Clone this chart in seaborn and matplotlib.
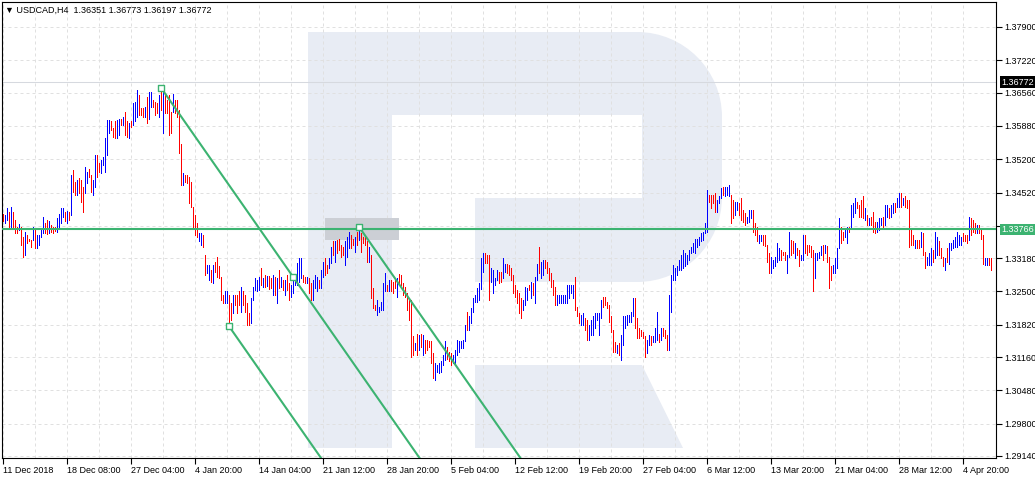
import numpy as np
import pandas as pd
import matplotlib
matplotlib.use("Agg")
import matplotlib.pyplot as plt
import seaborn as sns
from matplotlib.path import Path
from matplotlib.patches import PathPatch, Polygon, Rectangle
from matplotlib.transforms import Affine2D, blended_transform_factory

# ---------------- data ----------------
symbol_info = "\u25bc USDCAD,H4  1.36351 1.36773 1.36197 1.36772"

# H4 bars, 11 Dec 2018 -> 5 Apr 2019 (high / low of every bar)
highs = [
    1.3409, 1.3406, 1.3420, 1.3413, 1.3423, 1.3413, 1.3396, 1.3382, 1.3388, 1.3382,
    1.3362, 1.3372, 1.3365, 1.3358, 1.3356, 1.3382, 1.3379, 1.3365, 1.3365, 1.3375,
    1.3401, 1.3390, 1.3396, 1.3393, 1.3386, 1.3382, 1.3382, 1.3399, 1.3409, 1.3420,
    1.3420, 1.3413, 1.3415, 1.3413, 1.3488, 1.3498, 1.3474, 1.3477, 1.3481, 1.3477,
    1.3464, 1.3505, 1.3494, 1.3501, 1.3488, 1.3477, 1.3529, 1.3529, 1.3512, 1.3518,
    1.3525, 1.3563, 1.3600, 1.3600, 1.3597, 1.3583, 1.3597, 1.3600, 1.3603, 1.3603,
    1.3607, 1.3617, 1.3597, 1.3593, 1.3597, 1.3634, 1.3637, 1.3661, 1.3651, 1.3624,
    1.3624, 1.3627, 1.3648, 1.3658, 1.3658, 1.3641, 1.3637, 1.3634, 1.3651, 1.3667,
    1.3658, 1.3651, 1.3641, 1.3651, 1.3617, 1.3654, 1.3641, 1.3641, 1.3620, 1.3552,
    1.3491, 1.3488, 1.3488, 1.3484, 1.3474, 1.3423, 1.3406, 1.3389, 1.3369, 1.3369,
    1.3365, 1.3324, 1.3304, 1.3304, 1.3294, 1.3304, 1.3311, 1.3321, 1.3301, 1.3280,
    1.3243, 1.3250, 1.3250, 1.3243, 1.3226, 1.3243, 1.3243, 1.3243, 1.3250, 1.3260,
    1.3250, 1.3243, 1.3226, 1.3205, 1.3236, 1.3260, 1.3277, 1.3273, 1.3280, 1.3297,
    1.3277, 1.3283, 1.3281, 1.3281, 1.3277, 1.3283, 1.3280, 1.3277, 1.3294, 1.3280,
    1.3273, 1.3273, 1.3283, 1.3267, 1.3263, 1.3280, 1.3273, 1.3308, 1.3318, 1.3318,
    1.3283, 1.3280, 1.3280, 1.3277, 1.3267, 1.3273, 1.3283, 1.3280, 1.3273, 1.3294,
    1.3311, 1.3318, 1.3304, 1.3318, 1.3341, 1.3352, 1.3352, 1.3355, 1.3358, 1.3345,
    1.3341, 1.3352, 1.3362, 1.3372, 1.3365, 1.3358, 1.3362, 1.3372, 1.3382, 1.3369,
    1.3362, 1.3365, 1.3352, 1.3341, 1.3324, 1.3257, 1.3222, 1.3233, 1.3219, 1.3229,
    1.3267, 1.3287, 1.3263, 1.3273, 1.3273, 1.3270, 1.3277, 1.3277, 1.3286, 1.3283,
    1.3267, 1.3260, 1.3246, 1.3233, 1.3233, 1.3158, 1.3144, 1.3164, 1.3161, 1.3164,
    1.3161, 1.3151, 1.3151, 1.3148, 1.3148, 1.3124, 1.3103, 1.3100, 1.3103, 1.3107,
    1.3120, 1.3148, 1.3137, 1.3127, 1.3124, 1.3120, 1.3130, 1.3151, 1.3148, 1.3148,
    1.3151, 1.3182, 1.3209, 1.3199, 1.3216, 1.3236, 1.3243, 1.3257, 1.3267, 1.3318,
    1.3328, 1.3328, 1.3324, 1.3324, 1.3297, 1.3294, 1.3277, 1.3294, 1.3290, 1.3290,
    1.3318, 1.3307, 1.3307, 1.3304, 1.3297, 1.3284, 1.3263, 1.3253, 1.3246, 1.3236,
    1.3233, 1.3260, 1.3256, 1.3263, 1.3270, 1.3267, 1.3280, 1.3307, 1.3341, 1.3311,
    1.3314, 1.3314, 1.3311, 1.3297, 1.3287, 1.3273, 1.3260, 1.3243, 1.3243, 1.3243,
    1.3243, 1.3243, 1.3263, 1.3263, 1.3263, 1.3263, 1.3280, 1.3219, 1.3205, 1.3202,
    1.3205, 1.3195, 1.3192, 1.3182, 1.3192, 1.3199, 1.3205, 1.3205, 1.3205, 1.3233,
    1.3239, 1.3239, 1.3229, 1.3222, 1.3199, 1.3171, 1.3147, 1.3141, 1.3144, 1.3161,
    1.3199, 1.3199, 1.3202, 1.3202, 1.3209, 1.3236, 1.3236, 1.3195, 1.3175, 1.3171,
    1.3168, 1.3158, 1.3151, 1.3161, 1.3158, 1.3158, 1.3175, 1.3209, 1.3164, 1.3175,
    1.3175, 1.3171, 1.3161, 1.3243, 1.3284, 1.3304, 1.3297, 1.3301, 1.3314, 1.3324,
    1.3335, 1.3328, 1.3324, 1.3335, 1.3341, 1.3348, 1.3358, 1.3358, 1.3362, 1.3369,
    1.3372, 1.3389, 1.3457, 1.3447, 1.3447, 1.3447, 1.3450, 1.3437, 1.3444, 1.3461,
    1.3464, 1.3464, 1.3464, 1.3467, 1.3447, 1.3437, 1.3433, 1.3433, 1.3430, 1.3440,
    1.3416, 1.3410, 1.3403, 1.3416, 1.3416, 1.3416, 1.3389, 1.3382, 1.3365, 1.3365,
    1.3365, 1.3365, 1.3345, 1.3328, 1.3321, 1.3314, 1.3321, 1.3348, 1.3338, 1.3335,
    1.3331, 1.3331, 1.3324, 1.3372, 1.3355, 1.3352, 1.3348, 1.3338, 1.3335, 1.3324,
    1.3365, 1.3365, 1.3345, 1.3345, 1.3342, 1.3335, 1.3328, 1.3328, 1.3331, 1.3342,
    1.3345, 1.3345, 1.3342, 1.3321, 1.3301, 1.3304, 1.3318, 1.3338, 1.3399, 1.3382,
    1.3372, 1.3375, 1.3382, 1.3382, 1.3427, 1.3430, 1.3440, 1.3433, 1.3427, 1.3437,
    1.3444, 1.3420, 1.3406, 1.3399, 1.3403, 1.3413, 1.3392, 1.3392, 1.3399, 1.3399,
    1.3403, 1.3427, 1.3427, 1.3420, 1.3427, 1.3430, 1.3430, 1.3440, 1.3450, 1.3450,
    1.3440, 1.3444, 1.3437, 1.3437, 1.3375, 1.3365, 1.3355, 1.3355, 1.3355, 1.3372,
    1.3369, 1.3331, 1.3321, 1.3328, 1.3338, 1.3335, 1.3372, 1.3362, 1.3352, 1.3338,
    1.3321, 1.3318, 1.3338, 1.3348, 1.3348, 1.3355, 1.3362, 1.3372, 1.3365, 1.3362,
    1.3369, 1.3365, 1.3365, 1.3403, 1.3399, 1.3396, 1.3389, 1.3386, 1.3386, 1.3379,
    1.3365, 1.3318, 1.3318, 1.3318, 1.3318,
]
lows = [
    1.3393, 1.3389, 1.3396, 1.3379, 1.3382, 1.3379, 1.3369, 1.3369, 1.3375, 1.3345,
    1.3321, 1.3324, 1.3348, 1.3352, 1.3341, 1.3355, 1.3338, 1.3338, 1.3345, 1.3362,
    1.3369, 1.3369, 1.3367, 1.3369, 1.3372, 1.3369, 1.3374, 1.3372, 1.3382, 1.3389,
    1.3403, 1.3393, 1.3389, 1.3396, 1.3406, 1.3454, 1.3447, 1.3447, 1.3450, 1.3433,
    1.3413, 1.3450, 1.3471, 1.3484, 1.3454, 1.3447, 1.3464, 1.3484, 1.3494, 1.3491,
    1.3508, 1.3494, 1.3529, 1.3573, 1.3580, 1.3566, 1.3563, 1.3563, 1.3569, 1.3590,
    1.3590, 1.3569, 1.3566, 1.3563, 1.3586, 1.3590, 1.3597, 1.3607, 1.3610, 1.3610,
    1.3607, 1.3607, 1.3593, 1.3603, 1.3627, 1.3627, 1.3610, 1.3614, 1.3607, 1.3620,
    1.3573, 1.3614, 1.3614, 1.3569, 1.3573, 1.3617, 1.3614, 1.3607, 1.3532, 1.3467,
    1.3467, 1.3474, 1.3471, 1.3430, 1.3423, 1.3379, 1.3365, 1.3362, 1.3352, 1.3345,
    1.3341, 1.3284, 1.3287, 1.3273, 1.3270, 1.3267, 1.3290, 1.3280, 1.3277, 1.3233,
    1.3226, 1.3226, 1.3226, 1.3181, 1.3192, 1.3205, 1.3222, 1.3205, 1.3222, 1.3209,
    1.3222, 1.3209, 1.3181, 1.3181, 1.3185, 1.3233, 1.3253, 1.3250, 1.3253, 1.3263,
    1.3260, 1.3260, 1.3261, 1.3254, 1.3257, 1.3243, 1.3243, 1.3226, 1.3257, 1.3260,
    1.3253, 1.3243, 1.3253, 1.3233, 1.3239, 1.3246, 1.3263, 1.3263, 1.3270, 1.3277,
    1.3270, 1.3267, 1.3267, 1.3246, 1.3233, 1.3233, 1.3257, 1.3250, 1.3257, 1.3257,
    1.3280, 1.3283, 1.3287, 1.3297, 1.3308, 1.3324, 1.3311, 1.3328, 1.3335, 1.3321,
    1.3324, 1.3304, 1.3321, 1.3338, 1.3338, 1.3345, 1.3331, 1.3345, 1.3355, 1.3331,
    1.3348, 1.3345, 1.3311, 1.3311, 1.3236, 1.3216, 1.3212, 1.3202, 1.3209, 1.3212,
    1.3212, 1.3250, 1.3250, 1.3250, 1.3250, 1.3246, 1.3257, 1.3239, 1.3263, 1.3263,
    1.3243, 1.3239, 1.3212, 1.3192, 1.3117, 1.3120, 1.3130, 1.3120, 1.3130, 1.3137,
    1.3120, 1.3124, 1.3130, 1.3137, 1.3103, 1.3073, 1.3069, 1.3086, 1.3083, 1.3086,
    1.3100, 1.3110, 1.3113, 1.3107, 1.3100, 1.3103, 1.3100, 1.3120, 1.3127, 1.3134,
    1.3134, 1.3148, 1.3171, 1.3171, 1.3185, 1.3209, 1.3229, 1.3229, 1.3233, 1.3255,
    1.3290, 1.3308, 1.3308, 1.3233, 1.3270, 1.3246, 1.3263, 1.3273, 1.3267, 1.3270,
    1.3277, 1.3290, 1.3287, 1.3284, 1.3273, 1.3246, 1.3239, 1.3226, 1.3205, 1.3195,
    1.3212, 1.3222, 1.3233, 1.3253, 1.3236, 1.3243, 1.3226, 1.3273, 1.3287, 1.3277,
    1.3284, 1.3297, 1.3287, 1.3273, 1.3260, 1.3243, 1.3222, 1.3222, 1.3226, 1.3226,
    1.3226, 1.3226, 1.3226, 1.3236, 1.3246, 1.3236, 1.3212, 1.3199, 1.3185, 1.3182,
    1.3182, 1.3171, 1.3151, 1.3151, 1.3161, 1.3161, 1.3175, 1.3192, 1.3161, 1.3195,
    1.3219, 1.3222, 1.3216, 1.3188, 1.3168, 1.3127, 1.3127, 1.3124, 1.3120, 1.3110,
    1.3141, 1.3175, 1.3182, 1.3188, 1.3188, 1.3199, 1.3175, 1.3154, 1.3154, 1.3158,
    1.3154, 1.3117, 1.3124, 1.3141, 1.3141, 1.3147, 1.3147, 1.3151, 1.3147, 1.3151,
    1.3158, 1.3154, 1.3131, 1.3131, 1.3209, 1.3273, 1.3273, 1.3284, 1.3294, 1.3294,
    1.3297, 1.3301, 1.3307, 1.3314, 1.3328, 1.3331, 1.3328, 1.3341, 1.3345, 1.3352,
    1.3355, 1.3369, 1.3372, 1.3433, 1.3420, 1.3430, 1.3413, 1.3413, 1.3430, 1.3440,
    1.3447, 1.3444, 1.3447, 1.3444, 1.3389, 1.3399, 1.3406, 1.3416, 1.3406, 1.3396,
    1.3392, 1.3386, 1.3389, 1.3392, 1.3399, 1.3372, 1.3365, 1.3352, 1.3348, 1.3352,
    1.3345, 1.3342, 1.3311, 1.3287, 1.3287, 1.3297, 1.3301, 1.3311, 1.3314, 1.3314,
    1.3324, 1.3314, 1.3287, 1.3321, 1.3324, 1.3328, 1.3318, 1.3324, 1.3301, 1.3314,
    1.3314, 1.3328, 1.3324, 1.3331, 1.3321, 1.3250, 1.3277, 1.3314, 1.3318, 1.3324,
    1.3314, 1.3328, 1.3311, 1.3256, 1.3273, 1.3287, 1.3287, 1.3297, 1.3338, 1.3348,
    1.3355, 1.3362, 1.3348, 1.3372, 1.3382, 1.3403, 1.3410, 1.3420, 1.3403, 1.3403,
    1.3399, 1.3396, 1.3386, 1.3386, 1.3386, 1.3372, 1.3369, 1.3372, 1.3375, 1.3386,
    1.3379, 1.3386, 1.3403, 1.3399, 1.3403, 1.3410, 1.3413, 1.3423, 1.3423, 1.3423,
    1.3427, 1.3423, 1.3420, 1.3341, 1.3345, 1.3345, 1.3338, 1.3338, 1.3338, 1.3341,
    1.3324, 1.3297, 1.3304, 1.3304, 1.3304, 1.3311, 1.3318, 1.3324, 1.3324, 1.3318,
    1.3301, 1.3294, 1.3311, 1.3307, 1.3335, 1.3338, 1.3341, 1.3341, 1.3345, 1.3345,
    1.3352, 1.3352, 1.3348, 1.3355, 1.3365, 1.3372, 1.3369, 1.3369, 1.3369, 1.3358,
    1.3307, 1.3304, 1.3304, 1.3304, 1.3294,
]
# u = bar closed up (blue), d = bar closed down (red)
bar_dir = "".join([
    "duududddud", "duddduduuu", "udduddduuu", "udududdudd", "duudduuddu",
    "uuuuddduud", "udduduuudd", "duduudddud", "uddddudddd", "uddddddduu",
    "dduududddd", "duuddudddu", "dddduuuuu",
    "dududdudud", "ududduuuuu", "uddudduuud", "uudduududd", "dduuuddudu",
    "dddduddduu", "uuududddud", "dddddddudu", "duddddduuu", "uuuddduuuu",
    "uuuduuuuuu", "uuddduuuudd",
    "uudddddddd", "uuududuudu", "udddddduuu", "uuuuuudddu", "udduuuuuuu",
    "dddddddudu", "uuuuuudddd", "dduuduuudu", "ddduuuuuuu", "uuuuuuuuuu", "uuu",
    "dddduuuduu", "udduuddddu", "uuddduuddd", "duuuuudddu", "uddudduudd",
    "ddduuuudud",
    "dduuuudduu", "duuuddddud", "uddduuuduu", "duuduududd", "dddudduddu",
    "uuduudddud", "uuuuuuuddd", "uddduddduu", "dd",
])

date_ticks = [0, 32, 64, 96, 128, 160, 192, 224, 256, 288, 320, 352, 384, 416, 448, 480]
date_labels = ["11 Dec 2018", "18 Dec 08:00", "27 Dec 04:00", "4 Jan 20:00",
               "14 Jan 04:00", "21 Jan 12:00", "28 Jan 20:00", "5 Feb 04:00",
               "12 Feb 12:00", "19 Feb 20:00", "27 Feb 04:00", "6 Mar 12:00",
               "13 Mar 20:00", "21 Mar 04:00", "28 Mar 12:00", "4 Apr 20:00"]
price_ticks = [1.37900, 1.37220, 1.36560, 1.35880, 1.35200, 1.34520, 1.33840,
               1.33180, 1.32500, 1.31820, 1.31160, 1.30480, 1.29800, 1.29140]

level_price = 1.33766
last_price = 1.36772
channel_bars = [79, 145]          # two anchors of the first channel line
channel_prices = [1.3666, 1.3280]
parallel_bars = [113, 178]        # anchors of the parallel lines
parallel_prices = [1.3179, 1.3382]
zone_bars = [161, 198]
zone_prices = [1.3355, 1.3400]

GREEN = "mediumseagreen"
FS = 6.5

n = min(len(highs), len(lows), len(bar_dir))
df = pd.DataFrame({"bar": np.arange(n), "high": highs[:n], "low": lows[:n],
                   "dir": list(bar_dir[:n])})
df["color"] = np.where(df["dir"] == "u", "#0000ff", "#ff0000")

sns.set_theme(style="white")
plt.rcParams["font.family"] = ["Liberation Sans", "DejaVu Sans"]

W, H = 1035, 480
fig = plt.figure(figsize=(W / 100, H / 100), dpi=100)
ax = fig.add_axes([2 / W, 22 / H, 994 / W, 456 / H])
ax.set_facecolor("white")

# watermark logo (pixel coords of the screenshot)
px = Affine2D().scale(1 / W, -1 / H).translate(0, 1) + fig.transFigure
k, r = 0.5523, 85
verts = [(308, 32), (722 - r, 32), (722 - r + k * r, 32), (722, 32 + r - k * r), (722, 32 + r),
         (722, 282 - r), (722, 282 - r + k * r), (722 - r + k * r, 282), (722 - r, 282),
         (475, 282), (475, 198), (642, 198), (642, 115), (392, 115), (392, 448), (308, 448),
         (308, 32)]
codes = [Path.MOVETO, Path.LINETO, Path.CURVE4, Path.CURVE4, Path.CURVE4,
         Path.LINETO, Path.CURVE4, Path.CURVE4, Path.CURVE4,
         Path.LINETO, Path.LINETO, Path.LINETO, Path.LINETO, Path.LINETO, Path.LINETO,
         Path.LINETO, Path.CLOSEPOLY]
logo_c = "#e8ecf4"
ax.add_patch(PathPatch(Path(verts, codes), transform=px, fc=logo_c, ec="none", zorder=0.1))
ax.add_patch(Polygon([(475, 365), (642, 365), (683, 448), (475, 448)], closed=True,
                     transform=px, fc=logo_c, ec="none", zorder=0.1))

# grey zone rectangle
ax.add_patch(Rectangle((zone_bars[0], zone_prices[0]), zone_bars[1] - zone_bars[0],
                       zone_prices[1] - zone_prices[0], fc="#cccfd5", ec="none", zorder=1))

ax.axhline(last_price, color="#d6d9df", lw=0.75, zorder=1)

# OHLC bars (high-low sticks)
ax.vlines(df["bar"], df["low"], df["high"], colors=df["color"], linewidth=0.72,
          antialiased=False, zorder=2)

# horizontal level and channel lines
ax.axhline(level_price, color=GREEN, lw=1.5, zorder=3)
slope = (channel_prices[1] - channel_prices[0]) / (channel_bars[1] - channel_bars[0])
starts = [(channel_bars[0], channel_prices[0])] + list(zip(parallel_bars, parallel_prices))
for b, p in starts:
    ax.plot([b, b + 200], [p, p + slope * 200], color=GREEN, lw=1.5, zorder=3)

sns.scatterplot(x=channel_bars + parallel_bars, y=channel_prices + parallel_prices,
                marker="s", s=16, color="white", edgecolor=GREEN, linewidth=1.0,
                zorder=5, ax=ax)

ax.set_xlim(-0.5, 496.5)
ax.set_ylim(1.29099, 1.38410)

# axes, ticks, grid
ax.yaxis.tick_right()
ax.set_yticks(price_ticks)
# the tick under the level label is hidden by the label box
ax.set_yticklabels(["" if abs(p - level_price) < 0.002 else f"{p:.5f}" for p in price_ticks])
ax.set_xticks(date_ticks)
ax.set_xticklabels(date_labels, ha="left")
ax.set_xticks(list(range(16, 496, 32)), minor=True)
ax.tick_params(axis="x", which="major", bottom=True, direction="out", length=4, width=0.8,
               color="black", labelsize=FS, labelcolor="black", pad=1.5)
ax.tick_params(axis="x", which="minor", bottom=True, length=0)
ax.tick_params(axis="y", which="major", right=True, direction="out", length=4, width=0.8,
               color="black", labelsize=FS, labelcolor="black", pad=2)
ax.set_axisbelow(True)
grid_kw = dict(color="#e0e0e0", linestyle=(0, (3, 3)), linewidth=0.72)
ax.grid(True, axis="x", which="both", **grid_kw)
ax.grid(True, axis="y", which="major", **grid_kw)
for s in ax.spines.values():
    s.set_visible(True)
    s.set_color("black")
    s.set_linewidth(0.8)
ax.set_xlabel("")
ax.set_ylabel("")

# price labels on the right scale
trans = blended_transform_factory(ax.transAxes, ax.transData)
ax.text(1.005, level_price, f"{level_price:.5f}", transform=trans, ha="left", va="center",
        fontsize=FS, color="white", clip_on=False, zorder=10,
        bbox=dict(boxstyle="square,pad=0.15", fc=GREEN, ec="none"))
ax.text(1.005, last_price, f"{last_price:.5f}", transform=trans, ha="left", va="center",
        fontsize=FS, color="white", clip_on=False, zorder=10,
        bbox=dict(boxstyle="square,pad=0.15", fc="black", ec="none"))

fig.text(5 / W, 1 - 10 / H, symbol_info, fontsize=FS, ha="left", va="center", color="black")

fig.savefig("out.png", dpi=100)
